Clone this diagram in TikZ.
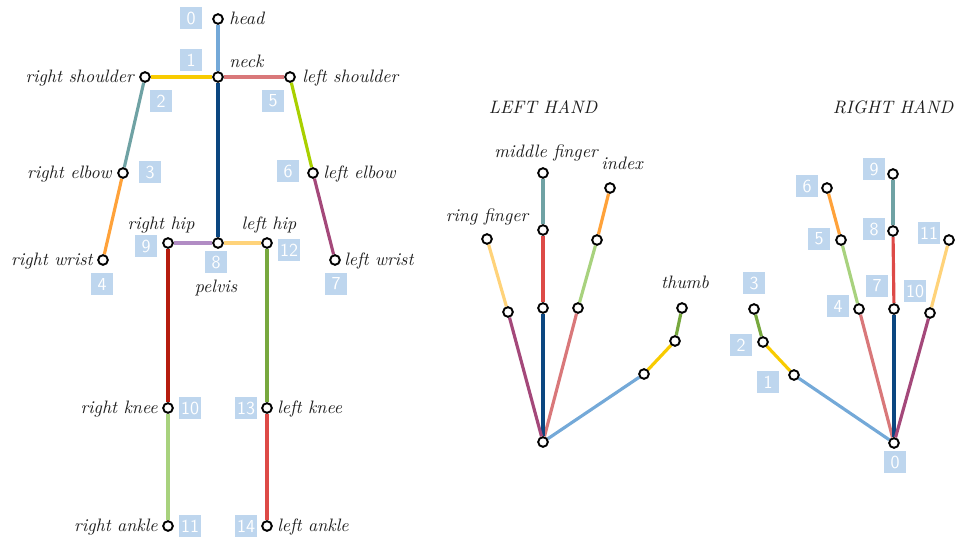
\documentclass[tikz,border=0pt]{standalone}
\usetikzlibrary{backgrounds}
\definecolor{tagblue}{HTML}{BED6EE}
\definecolor{cLightBlue}{HTML}{74A9D8}
\definecolor{cGold}{HTML}{F8CB00}
\definecolor{cSalmon}{HTML}{D9787A}
\definecolor{cTeal}{HTML}{6FA2A4}
\definecolor{cOrange}{HTML}{FFA23A}
\definecolor{cLime}{HTML}{A9D000}
\definecolor{cPlum}{HTML}{A4487A}
\definecolor{cNavy}{HTML}{0B4680}
\definecolor{cLilac}{HTML}{B18CC4}
\definecolor{cPaleYellow}{HTML}{FFD37A}
\definecolor{cDarkRed}{HTML}{B51C0E}
\definecolor{cPaleGreen}{HTML}{A8D27E}
\definecolor{cOlive}{HTML}{77A83E}
\definecolor{cRed}{HTML}{DD4A47}
\definecolor{txt}{HTML}{1E1E1E}
\tikzset{
  joint/.style={circle, draw=black, fill=white, line width=1.15pt, inner sep=0pt, minimum size=5.8pt},
  bone/.style={line width=1.9pt},
  tag/.style={fill=tagblue, text=white, font=\sffamily\fontsize{11}{11}\selectfont,
              minimum width=13.5pt, minimum height=13.5pt, inner sep=0.5pt},
  lbl/.style={font=\itshape\fontsize{10.8}{12}\selectfont, text=txt, inner sep=0pt},
}
\begin{document}
\begin{tikzpicture}[x=0.6pt, y=-0.6pt]
\useasboundingbox (0,0) rectangle (955,537);

% ---------------- body skeleton ----------------
\node[joint] (head)  at (218,19)  {};
\node[joint] (neck)  at (218,77)  {};
\node[joint] (rsh)   at (145,77)  {};
\node[joint] (lsh)   at (290,77)  {};
\node[joint] (rel)   at (123,173) {};
\node[joint] (lel)   at (313,173) {};
\node[joint] (rwr)   at (103,260) {};
\node[joint] (lwr)   at (335,260) {};
\node[joint] (pel)   at (218,243) {};
\node[joint] (rhip)  at (168,243) {};
\node[joint] (lhip)  at (267,243) {};
\node[joint] (rkn)   at (168,408) {};
\node[joint] (lkn)   at (267,408) {};
\node[joint] (ran)   at (168,526) {};
\node[joint] (lan)   at (267,526) {};

\begin{pgfonlayer}{background}
  \draw[bone, cLightBlue]  (head) -- (neck);
  \draw[bone, cGold]       (neck) -- (rsh);
  \draw[bone, cSalmon]     (neck) -- (lsh);
  \draw[bone, cTeal]       (rsh) -- (rel);
  \draw[bone, cOrange]     (rel) -- (rwr);
  \draw[bone, cLime]       (lsh) -- (lel);
  \draw[bone, cPlum]       (lel) -- (lwr);
  \draw[bone, cNavy]       (neck) -- (pel);
  \draw[bone, cLilac]      (pel) -- (rhip);
  \draw[bone, cPaleYellow] (pel) -- (lhip);
  \draw[bone, cDarkRed]    (rhip) -- (rkn);
  \draw[bone, cPaleGreen]  (rkn) -- (ran);
  \draw[bone, cOlive]      (lhip) -- (lkn);
  \draw[bone, cRed]        (lkn) -- (lan);
\end{pgfonlayer}

\node[lbl, anchor=mid west] (tHead) at (229,21)  {head};
\node[lbl, anchor=mid west] (tNeck) at (229,64)  {neck};
\node[lbl, anchor=mid east] (tRsh)  at (134,79)  {right shoulder};
\node[lbl, anchor=mid west] (tLsh)  at (302,79)  {left shoulder};
\node[lbl, anchor=mid east] (tRel)  at (112,175) {right elbow};
\node[lbl, anchor=mid west] (tLel)  at (323,175) {left elbow};
\node[lbl, anchor=mid east] (tRwr)  at (93,262)  {right wrist};
\node[lbl, anchor=mid west] (tLwr)  at (344,262) {left wrist};
\node[lbl, anchor=mid]      (tRhip) at (161,226) {right hip};
\node[lbl, anchor=mid]      (tLhip) at (269,226) {left hip};
\node[lbl, anchor=mid]      (tPel)  at (216,289) {pelvis};
\node[lbl, anchor=mid east] (tRkn)  at (158,410) {right knee};
\node[lbl, anchor=mid west] (tLkn)  at (277,410) {left knee};
\node[lbl, anchor=mid east] (tRan)  at (158,528) {right ankle};
\node[lbl, anchor=mid west] (tLan)  at (277,528) {left ankle};

\node[tag] (b0)  at (191,18)  {0};
\node[tag] (b1)  at (191,60)  {1};
\node[tag] (b2)  at (161,101) {2};
\node[tag] (b3)  at (150,172) {3};
\node[tag] (b4)  at (102,284) {4};
\node[tag] (b5)  at (273,101) {5};
\node[tag] (b6)  at (288,171) {6};
\node[tag] (b7)  at (336,284) {7};
\node[tag] (b8)  at (216,262) {8};
\node[tag] (b9)  at (146,246) {9};
\node[tag] (b10) at (190,408) {10};
\node[tag] (b11) at (190,526) {11};
\node[tag] (b12) at (289,250) {12};
\node[tag] (b13) at (246,408) {13};
\node[tag] (b14) at (246,526) {14};

% ---------------- left hand ----------------
\node[lbl, anchor=mid] (lhTitle) at (543,110) {LEFT HAND};
\node[joint] (lw)  at (543,442) {};
\node[joint] (lt1) at (644,374) {};
\node[joint] (lt2) at (675,341) {};
\node[joint] (lt3) at (682,308) {};
\node[joint] (li1) at (578,308) {};
\node[joint] (li2) at (597,240) {};
\node[joint] (li3) at (610,188) {};
\node[joint] (lm1) at (543,308) {};
\node[joint] (lm2) at (543,230) {};
\node[joint] (lm3) at (543,173) {};
\node[joint] (lr1) at (508,312) {};
\node[joint] (lr2) at (487,239) {};

\begin{pgfonlayer}{background}
  \draw[bone, cLightBlue]  (lw) -- (lt1);
  \draw[bone, cGold]       (lt1) -- (lt2);
  \draw[bone, cOlive]      (lt2) -- (lt3);
  \draw[bone, cSalmon]     (lw) -- (li1);
  \draw[bone, cPaleGreen]  (li1) -- (li2);
  \draw[bone, cOrange]     (li2) -- (li3);
  \draw[bone, cNavy]       (lw) -- (lm1);
  \draw[bone, cRed]        (lm1) -- (lm2);
  \draw[bone, cTeal]       (lm2) -- (lm3);
  \draw[bone, cPlum]       (lw) -- (lr1);
  \draw[bone, cPaleYellow] (lr1) -- (lr2);
\end{pgfonlayer}

\node[lbl, anchor=mid] (tMid)   at (546,154) {middle finger};
\node[lbl, anchor=mid] (tIdx)   at (622,166) {index};
\node[lbl, anchor=mid] (tRing)  at (487,218) {ring finger};
\node[lbl, anchor=mid] (tThumb) at (685,285) {thumb};

% ---------------- right hand ----------------
\node[lbl, anchor=mid] (rhTitle) at (893,110) {RIGHT HAND};
\node[joint] (rw)  at (894,443) {};
\node[joint] (rt1) at (794,375) {};
\node[joint] (rt2) at (763,342) {};
\node[joint] (rt3) at (754,309) {};
\node[joint] (ri1) at (859,309) {};
\node[joint] (ri2) at (841,240) {};
\node[joint] (ri3) at (827,188) {};
\node[joint] (rm1) at (894,309) {};
\node[joint] (rm2) at (893,231) {};
\node[joint] (rm3) at (893,174) {};
\node[joint] (rr1) at (930,313) {};
\node[joint] (rr2) at (949,240) {};

\begin{pgfonlayer}{background}
  \draw[bone, cLightBlue]  (rw) -- (rt1);
  \draw[bone, cGold]       (rt1) -- (rt2);
  \draw[bone, cOlive]      (rt2) -- (rt3);
  \draw[bone, cSalmon]     (rw) -- (ri1);
  \draw[bone, cPaleGreen]  (ri1) -- (ri2);
  \draw[bone, cOrange]     (ri2) -- (ri3);
  \draw[bone, cNavy]       (rw) -- (rm1);
  \draw[bone, cRed]        (rm1) -- (rm2);
  \draw[bone, cTeal]       (rm2) -- (rm3);
  \draw[bone, cPlum]       (rw) -- (rr1);
  \draw[bone, cPaleYellow] (rr1) -- (rr2);
\end{pgfonlayer}

\node[tag] (h0)  at (895,462) {0};
\node[tag] (h1)  at (768,382) {1};
\node[tag] (h2)  at (741,345) {2};
\node[tag] (h3)  at (754,283) {3};
\node[tag] (h4)  at (838,306) {4};
\node[tag] (h5)  at (819,239) {5};
\node[tag] (h6)  at (807,186) {6};
\node[tag] (h7)  at (877,286) {7};
\node[tag] (h8)  at (874,229) {8};
\node[tag] (h9)  at (874,169) {9};
\node[tag] (h10) at (915,291) {10};
\node[tag] (h11) at (929,233) {11};
\end{tikzpicture}
\end{document}
